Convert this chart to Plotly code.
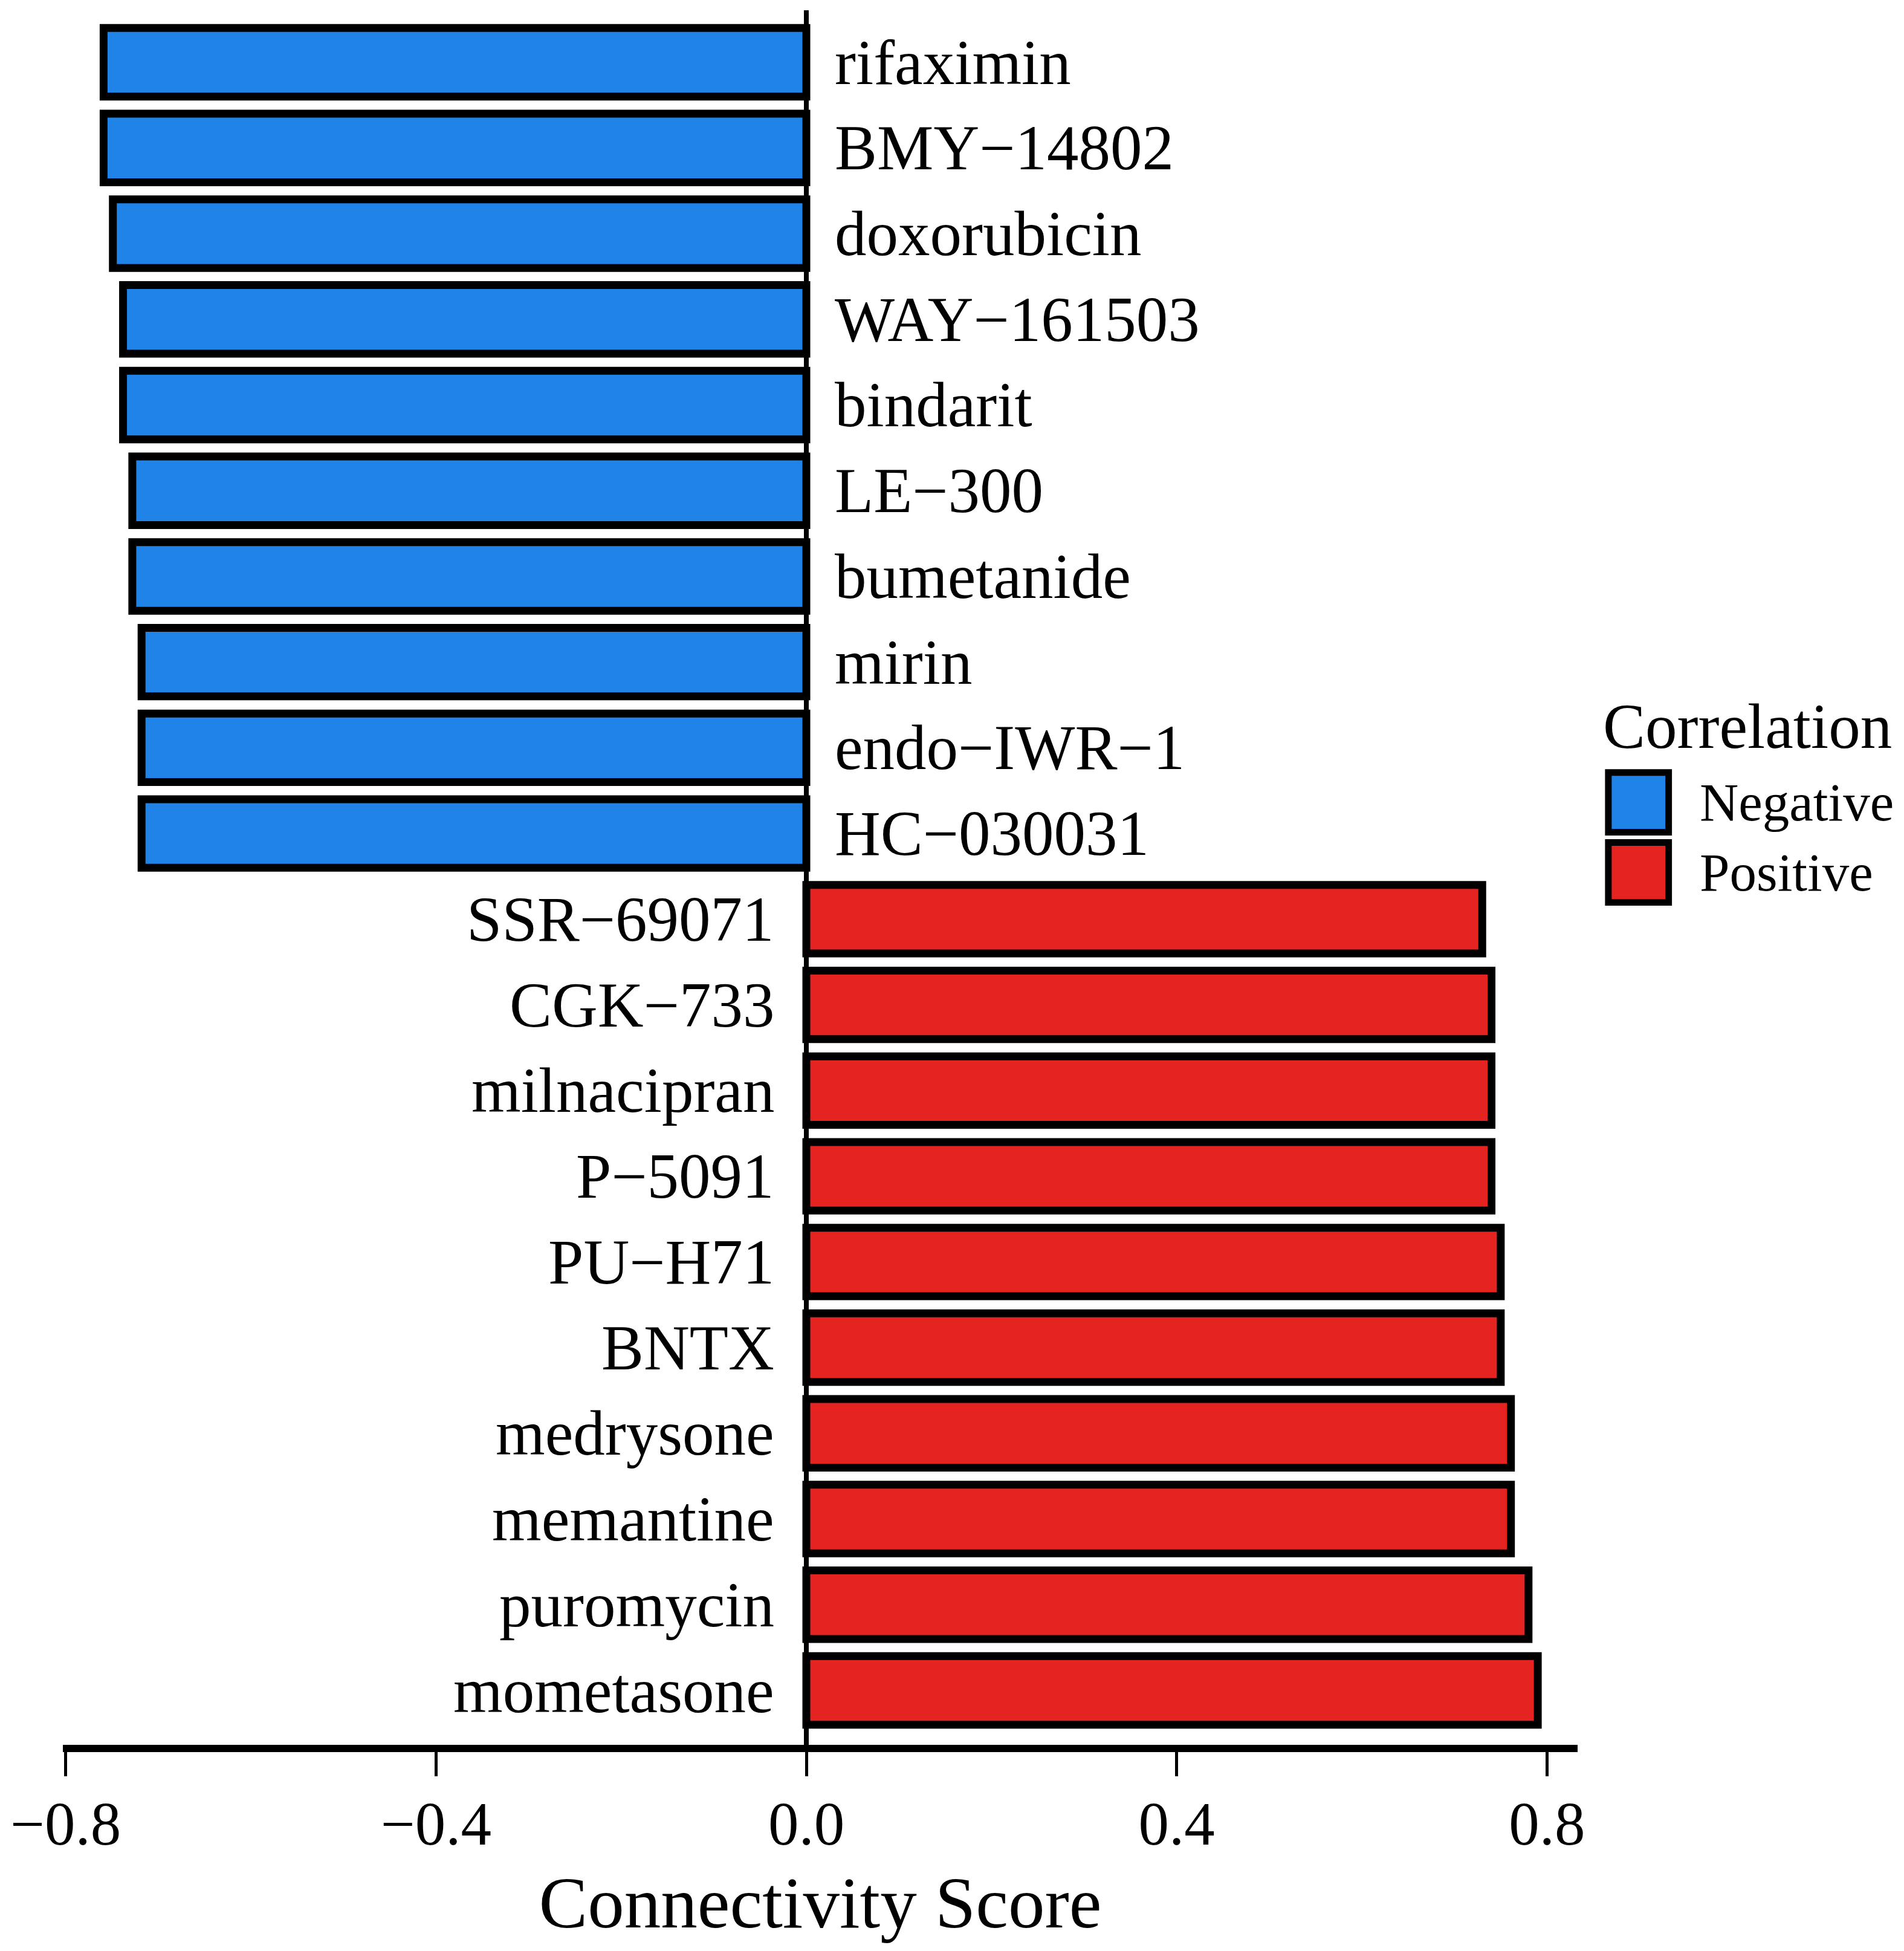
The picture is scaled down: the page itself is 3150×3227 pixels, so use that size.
import plotly.graph_objects as go

# Connectivity scores (top 10 negative, top 10 positive)
drugs = ["rifaximin", "BMY−14802", "doxorubicin", "WAY−161503", "bindarit",
         "LE−300", "bumetanide", "mirin", "endo−IWR−1", "HC−030031",
         "SSR−69071", "CGK−733", "milnacipran", "P−5091", "PU−H71",
         "BNTX", "medrysone", "memantine", "puromycin", "mometasone"]
scores = [-0.759, -0.759, -0.749, -0.738, -0.738,
          -0.728, -0.728, -0.718, -0.718, -0.718,
          0.730, 0.740, 0.740, 0.740, 0.750,
          0.750, 0.761, 0.761, 0.780, 0.790]
tick_vals = [-0.8, -0.4, 0.0, 0.4, 0.8]

blue = "#1F83E8"
red = "#E52421"
font_name = "Liberation Serif"

colors = [blue if s < 0 else red for s in scores]

fig = go.Figure()

fig.add_trace(go.Bar(
    x=scores,
    y=drugs,
    orientation="h",
    width=0.8,
    marker=dict(color=colors, line=dict(color="black", width=13)),
    showlegend=False,
))

# drug names next to the zero line, on the opposite side of the bar
for d, s in zip(drugs, scores):
    fig.add_annotation(
        x=0, y=d, text=d, showarrow=False,
        xanchor="left" if s < 0 else "right",
        xshift=45 if s < 0 else -51,
        font=dict(family=font_name, size=105, color="black"),
    )

# hand-made legend (plotly legend swatches can't be this large)
legend_items = [("Negative", blue, 0.5606, 0.5261, 0.5434),
                ("Positive", red, 0.5202, 0.4857, 0.5030)]
for name, col, y1, y0, yc in legend_items:
    fig.add_shape(type="rect", xref="paper", yref="paper",
                  x0=1.0203, x1=1.0601, y0=y0, y1=y1,
                  fillcolor=col, line=dict(color="black", width=11))
    fig.add_annotation(xref="paper", yref="paper", x=1.0800, y=yc,
                       text=name, showarrow=False, xanchor="left", yanchor="middle",
                       font=dict(family=font_name, size=89, color="black"))
fig.add_annotation(xref="paper", yref="paper", x=1.0160, y=0.5870,
                   text="Correlation", showarrow=False, xanchor="left", yanchor="middle",
                   font=dict(family=font_name, size=105, color="black"))

# page body has an 8px margin, so the figure is 8px smaller than the window
fig.update_layout(
    width=3142,
    height=3219,
    margin=dict(l=88, r=540, t=9, b=341),
    plot_bgcolor="white",
    paper_bgcolor="white",
    font=dict(family=font_name, color="black"),
    xaxis=dict(
        range=[-0.803, 0.833],
        tickvals=tick_vals,
        tickformat=".1f",
        showgrid=False,
        zeroline=True,
        zerolinecolor="black",
        zerolinewidth=8,
        showline=True,
        linecolor="black",
        linewidth=12,
        ticks="outside",
        ticklen=40,
        tickwidth=5,
        tickcolor="black",
        ticklabelstandoff=-8,
        ticklabeloverflow="allow",
        tickfont=dict(family=font_name, size=101, color="black"),
        title=dict(text="Connectivity Score",
                   font=dict(family=font_name, size=121, color="black"),
                   standoff=36),
    ),
    yaxis=dict(
        type="category",
        categoryorder="array",
        categoryarray=drugs,
        range=[19.635, -0.607],
        showticklabels=False,
        showgrid=False,
        zeroline=False,
        showline=False,
        ticks="",
    ),
)

fig.write_html("out.html")
